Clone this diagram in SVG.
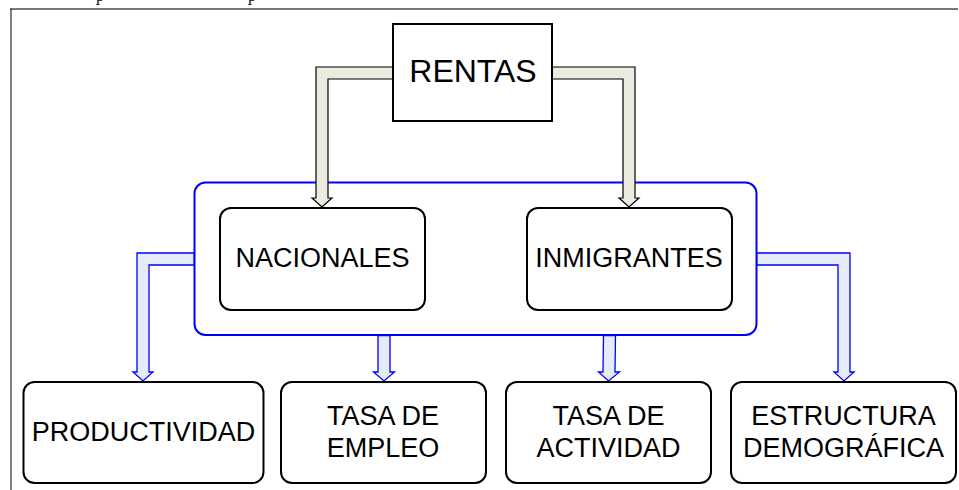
<svg xmlns="http://www.w3.org/2000/svg" width="959" height="490" viewBox="0 0 959 490">
<style>
.t{font-family:"Liberation Sans",Arial,sans-serif;font-size:27px;fill:#000;text-anchor:middle}
.box{fill:#fff;stroke:#000;stroke-width:2}
.ga{fill:#EBEBDF;stroke:#000;stroke-width:1.2;stroke-linejoin:miter}
.ba{fill:#E6ECF7;stroke:#0000FF;stroke-width:1.3;stroke-linejoin:miter}
.frag{font-family:"Liberation Serif","Times New Roman",serif;font-size:16px;fill:#000}
</style>
<rect x="0" y="0" width="959" height="490" fill="#fff"/>
<g id="frame">
<line x1="10" y1="9" x2="958" y2="9" stroke="#777" stroke-width="2"/>
<line x1="11" y1="9" x2="11" y2="490" stroke="#000" stroke-width="1"/>
<text class="frag" x="96" y="0.5">p</text>
<text class="frag" x="248" y="0.5">p</text>
</g>
<g id="group-box">
<rect x="194.5" y="182.5" width="562" height="152.5" rx="11" fill="#fff" stroke="#0000FF" stroke-width="2"/>
</g>
<g id="connectors">
<path class="ga" d="M393,67 L316,67 L316,198 L312,198 L322,207 L332,198 L328,198 L328,79 L393,79 Z"/>
<path class="ga" d="M552,67 L635,67 L635,198 L639,198 L629,207 L619,198 L623,198 L623,79 L552,79 Z"/>
<path class="ba" d="M194,253 L137,253 L137,372 L133,372 L143,381 L153,372 L149,372 L149,265 L194,265 Z"/>
<path class="ba" d="M378,335.5 L378,372 L373.5,372 L384,381 L394.5,372 L390,372 L390,335.5 Z"/>
<path class="ba" d="M603.5,335.5 L603,372 L598.5,372 L608.5,381 L619.5,372 L615,372 L615.5,335.5 Z"/>
<path class="ba" d="M757,253 L850,253 L850,372 L854,372 L844,381 L834,372 L838,372 L838,265 L757,265 Z"/>
</g>
<g id="rentas">
<rect class="box" x="393" y="24" width="159" height="97"/>
<text class="t" x="473" y="82" style="font-size:32px">RENTAS</text>
</g>
<g id="nacionales">
<rect class="box" x="220" y="208" width="205" height="102" rx="11"/>
<text class="t" x="322.5" y="267">NACIONALES</text>
</g>
<g id="inmigrantes">
<rect class="box" x="527" y="208" width="205" height="102" rx="11"/>
<text class="t" x="629" y="267">INMIGRANTES</text>
</g>
<g id="productividad">
<rect class="box" x="23.5" y="382" width="240" height="101" rx="11"/>
<text class="t" x="143.5" y="441">PRODUCTIVIDAD</text>
</g>
<g id="tasa-empleo">
<rect class="box" x="281" y="382" width="205" height="101" rx="11"/>
<text class="t" x="383" y="425">TASA DE</text>
<text class="t" x="383" y="457">EMPLEO</text>
</g>
<g id="tasa-actividad">
<rect class="box" x="506" y="382" width="205" height="101" rx="11"/>
<text class="t" x="608.5" y="425">TASA DE</text>
<text class="t" x="608.5" y="457">ACTIVIDAD</text>
</g>
<g id="estructura">
<rect class="box" x="731" y="382" width="225" height="101" rx="11"/>
<text class="t" x="843.5" y="425">ESTRUCTURA</text>
<text class="t" x="843.5" y="457">DEMOGRÁFICA</text>
</g>
</svg>
